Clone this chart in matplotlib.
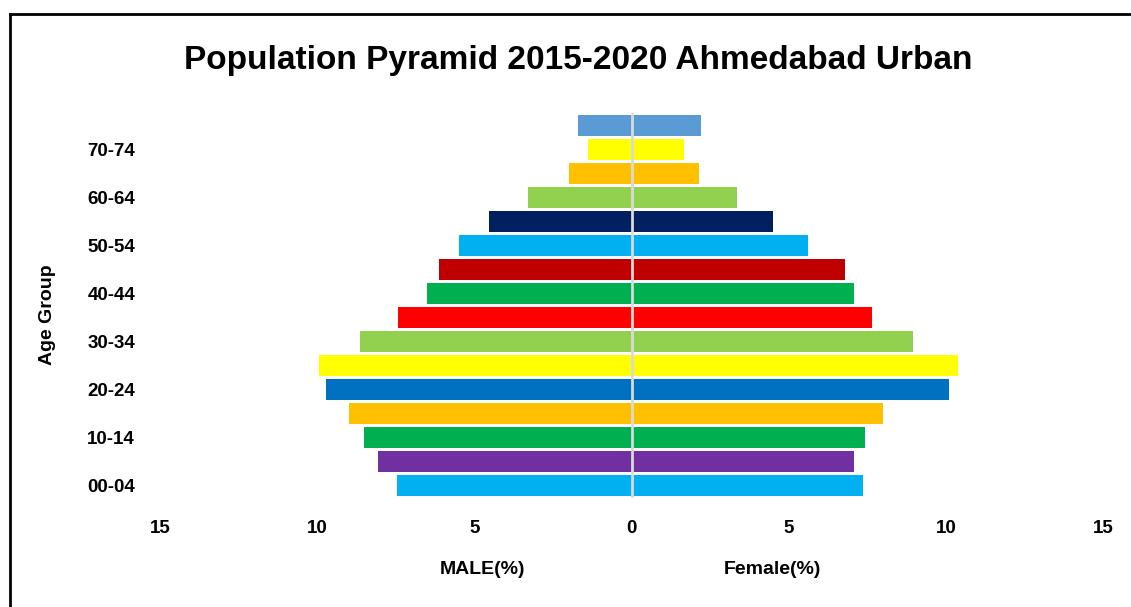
import matplotlib
matplotlib.use("Agg")
import matplotlib.pyplot as plt
from matplotlib.lines import Line2D

# Data
age_groups = ["00-04", "05-09", "10-14", "15-19", "20-24", "25-29", "30-34", "35-39",
              "40-44", "45-49", "50-54", "55-59", "60-64", "65-69", "70-74", "75+"]
male = [7.46, 8.06, 8.51, 8.98, 9.72, 9.94, 8.64, 7.42,
        6.50, 6.11, 5.48, 4.55, 3.31, 2.00, 1.40, 1.69]
female = [7.36, 7.07, 7.42, 8.00, 10.09, 10.40, 8.94, 7.64,
          7.07, 6.78, 5.60, 4.49, 3.34, 2.13, 1.66, 2.20]
colors = ["#00B0F0", "#7030A0", "#00B050", "#FFC000", "#0070C0", "#FFFF00", "#92D050", "#FF0000",
          "#00B050", "#C00000", "#00B0F0", "#002060", "#92D050", "#FFC000", "#FFFF00", "#5B9BD5"]
x_ticks = [-15, -10, -5, 0, 5, 10, 15]

plt.rcParams['font.family'] = ['Liberation Sans', 'DejaVu Sans']
plt.rcParams['font.weight'] = 'bold'

fig = plt.figure(figsize=(11.31, 6.07), dpi=100)
ax = fig.add_axes([0.1415, 0.1796, 0.8338, 0.6342])

pos = list(range(len(age_groups)))
ax.barh(pos, [-m for m in male], height=0.87, color=colors)
ax.barh(pos, female, height=0.87, color=colors)
ax.axvline(0, color="#D9D9D9", lw=2)

ax.set_xlim(-15, 15)
ax.set_ylim(-0.5, len(age_groups) - 0.5)
ax.set_xticks(x_ticks)
ax.set_xticklabels([str(abs(t)) for t in x_ticks], fontsize=13.5, fontweight='bold')
ax.set_yticks(pos[::2])
ax.set_yticklabels(age_groups[::2], fontsize=13.5, fontweight='bold')
ax.tick_params(length=0)
ax.tick_params(axis='x', pad=16)
ax.tick_params(axis='y', pad=18)
for s in ax.spines.values():
    s.set_visible(False)

fig.text(0.511, 0.900, "Population Pyramid 2015-2020 Ahmedabad Urban",
         ha='center', va='center', fontsize=24, fontweight='bold')
fig.text(0.042, 0.481, "Age Group", rotation=90, ha='center', va='center',
         fontsize=14, fontweight='bold')
fig.text(0.427, 0.062, "MALE(%)", ha='center', va='center', fontsize=14, fontweight='bold')
fig.text(0.683, 0.062, "Female(%)", ha='center', va='center', fontsize=14, fontweight='bold')

# frame around the chart (left and top edges visible)
fig.add_artist(Line2D([0.0084, 0.0084], [0, 0.977], transform=fig.transFigure, color='black', lw=2))
fig.add_artist(Line2D([0.0084, 1.0], [0.977, 0.977], transform=fig.transFigure, color='black', lw=2))

fig.savefig("out.png", dpi=100)
